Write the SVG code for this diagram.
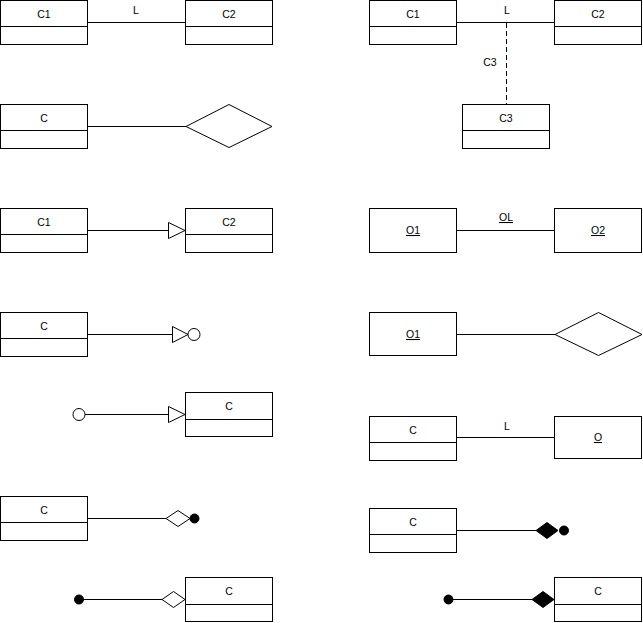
<svg xmlns="http://www.w3.org/2000/svg" width="643" height="623" viewBox="0 0 643 623">
<style>
.box{fill:#fff;stroke:#000;stroke-width:1}
.ln{stroke:#000;stroke-width:1;fill:none}
.dash{stroke:#000;stroke-width:1;fill:none;stroke-dasharray:5,3}
.t{font-family:"Liberation Sans",Arial,sans-serif;font-size:10.5px;fill:#000;text-anchor:middle}
.u{text-decoration:underline}
.hollow{fill:#fff;stroke:#000;stroke-width:1}
.solid{fill:#000;stroke:#000;stroke-width:1}
</style>
<rect width="643" height="623" fill="#fff"/>
<g id="connectors">
  <line class="ln" x1="88" y1="22.5" x2="185" y2="22.5"/>
  <text class="t" x="136" y="14">L</text>
  <line class="ln" x1="457" y1="22.5" x2="554" y2="22.5"/>
  <text class="t" x="507" y="14">L</text>
  <line class="dash" x1="506.5" y1="23" x2="506.5" y2="104"/>
  <text class="t" x="490" y="66">C3</text>
  <line class="ln" x1="88" y1="126.5" x2="186" y2="126.5"/>
  <line class="ln" x1="88" y1="230.5" x2="168.5" y2="230.5"/>
  <polygon class="hollow" points="168.5,222.5 185,230.5 168.5,238.5"/>
  <line class="ln" x1="457" y1="230.5" x2="554" y2="230.5"/>
  <text class="t u" x="506" y="221">OL</text>
  <line class="ln" x1="88" y1="334.5" x2="172.5" y2="334.5"/>
  <polygon class="hollow" points="172.5,326.5 188,334.5 172.5,342.5"/>
  <circle class="hollow" cx="194" cy="334.5" r="6"/>
  <line class="ln" x1="457" y1="334.5" x2="555" y2="334.5"/>
  <circle class="hollow" cx="79" cy="414.5" r="6"/>
  <line class="ln" x1="85" y1="414.5" x2="168.5" y2="414.5"/>
  <polygon class="hollow" points="168.5,406.5 185,414.5 168.5,422.5"/>
  <line class="ln" x1="457" y1="437.5" x2="554" y2="437.5"/>
  <text class="t" x="507" y="430">L</text>
  <line class="ln" x1="88" y1="518.5" x2="166" y2="518.5"/>
  <polygon class="hollow" points="166,518.5 178,510.5 190,518.5 178,526.5"/>
  <circle class="solid" cx="194.5" cy="518.5" r="4.5"/>
  <line class="ln" x1="457" y1="530.5" x2="536" y2="530.5"/>
  <polygon class="solid" points="536,530.5 547,522.5 558,530.5 547,538.5"/>
  <circle class="solid" cx="564" cy="530.5" r="4.5"/>
  <circle class="solid" cx="79" cy="599.5" r="4.5"/>
  <line class="ln" x1="79" y1="599.5" x2="162" y2="599.5"/>
  <polygon class="hollow" points="162,599.5 173.5,591.5 185,599.5 173.5,607.5"/>
  <circle class="solid" cx="448.5" cy="599.5" r="4.5"/>
  <line class="ln" x1="448" y1="599.5" x2="532" y2="599.5"/>
  <polygon class="solid" points="532,599.5 543,591.5 554,599.5 543,607.5"/>
</g>
<g id="r1-left-C1"><rect class="box" x="0.5" y="0.5" width="87" height="44"/><line class="ln" x1="0" y1="26.5" x2="88" y2="26.5"/><text class="t" x="44" y="18">C1</text></g>
<g id="r1-left-C2"><rect class="box" x="185.5" y="0.5" width="87" height="44"/><line class="ln" x1="185" y1="26.5" x2="273" y2="26.5"/><text class="t" x="229" y="18">C2</text></g>
<g id="r1-right-C1"><rect class="box" x="369.5" y="0.5" width="87" height="44"/><line class="ln" x1="369" y1="26.5" x2="457" y2="26.5"/><text class="t" x="413" y="18">C1</text></g>
<g id="r1-right-C2"><rect class="box" x="554.5" y="0.5" width="87" height="44"/><line class="ln" x1="554" y1="26.5" x2="642" y2="26.5"/><text class="t" x="598" y="18">C2</text></g>
<g id="r1-right-C3"><rect class="box" x="462.5" y="104.5" width="87" height="44"/><line class="ln" x1="462" y1="130.5" x2="550" y2="130.5"/><text class="t" x="506" y="122">C3</text></g>
<g id="r2-left-C"><rect class="box" x="0.5" y="104.5" width="87" height="44"/><line class="ln" x1="0" y1="130.5" x2="88" y2="130.5"/><text class="t" x="44" y="122">C</text></g>
<g id="r2-left-diamond"><polygon class="hollow" points="186,126.5 229,104.5 272,126.5 229,147.5"/></g>
<g id="r3-left-C1"><rect class="box" x="0.5" y="208.5" width="87" height="44"/><line class="ln" x1="0" y1="234.5" x2="88" y2="234.5"/><text class="t" x="44" y="226">C1</text></g>
<g id="r3-left-C2"><rect class="box" x="185.5" y="208.5" width="87" height="44"/><line class="ln" x1="185" y1="234.5" x2="273" y2="234.5"/><text class="t" x="229" y="226">C2</text></g>
<g id="r3-right-O1"><rect class="box" x="369.5" y="208.5" width="87" height="44"/><text class="t u" x="413" y="234">O1</text></g>
<g id="r3-right-O2"><rect class="box" x="554.5" y="208.5" width="87" height="44"/><text class="t u" x="598" y="234">O2</text></g>
<g id="r4-left-C"><rect class="box" x="0.5" y="312.5" width="87" height="44"/><line class="ln" x1="0" y1="338.5" x2="88" y2="338.5"/><text class="t" x="44" y="330">C</text></g>
<g id="r4-right-O1"><rect class="box" x="369.5" y="312.5" width="87" height="43"/><text class="t u" x="413" y="338">O1</text></g>
<g id="r4-right-diamond"><polygon class="hollow" points="555,334.5 598.5,312.5 642,334.5 598.5,355.5"/></g>
<g id="r5-left-C"><rect class="box" x="185.5" y="392.5" width="87" height="44"/><line class="ln" x1="185" y1="419.5" x2="273" y2="419.5"/><text class="t" x="229" y="410">C</text></g>
<g id="r5-right-C"><rect class="box" x="369.5" y="416.5" width="87" height="44"/><line class="ln" x1="369" y1="442.5" x2="457" y2="442.5"/><text class="t" x="413" y="434">C</text></g>
<g id="r5-right-O"><rect class="box" x="554.5" y="416.5" width="87" height="42"/><text class="t u" x="598" y="441">O</text></g>
<g id="r6-left-C"><rect class="box" x="0.5" y="496.5" width="87" height="44"/><line class="ln" x1="0" y1="522.5" x2="88" y2="522.5"/><text class="t" x="44" y="514">C</text></g>
<g id="r6-right-C"><rect class="box" x="369.5" y="508.5" width="87" height="44"/><line class="ln" x1="369" y1="534.5" x2="457" y2="534.5"/><text class="t" x="413" y="526">C</text></g>
<g id="r7-left-C"><rect class="box" x="185.5" y="577.5" width="87" height="44"/><line class="ln" x1="185" y1="604.5" x2="273" y2="604.5"/><text class="t" x="229" y="595">C</text></g>
<g id="r7-right-C"><rect class="box" x="554.5" y="577.5" width="87" height="44"/><line class="ln" x1="554" y1="604.5" x2="642" y2="604.5"/><text class="t" x="598" y="595">C</text></g>
</svg>
